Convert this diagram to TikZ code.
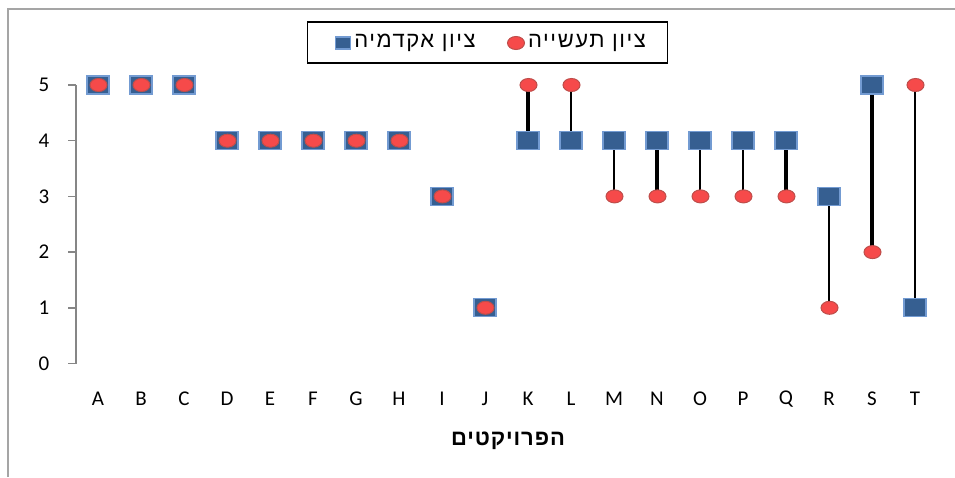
\documentclass[tikz,border=0pt]{standalone}
\usepackage{fontspec}
\setmainfont{Carlito}
\newfontfamily\hebfont[Script=Hebrew,LetterSpace=4]{Liberation Sans}
\newfontfamily\hebkeyfont[Script=Hebrew,LetterSpace=7]{Liberation Sans}
\TeXXeTstate=1
\usetikzlibrary{backgrounds}
\usetikzlibrary{shapes.geometric}
\definecolor{acablue}{RGB}{54,95,145}
\definecolor{acaedge}{RGB}{115,155,210}
\definecolor{indred}{RGB}{246,74,74}
\definecolor{indedge}{RGB}{190,78,75}
\definecolor{axisgray}{RGB}{134,134,134}
\definecolor{framegray}{RGB}{165,165,165}

\begin{document}
\begin{tikzpicture}[
            x = 1pt, y = -1pt, % pixel grid
            font = \fontsize{21}{25}\selectfont,
            aca/.style = {rectangle, draw = acaedge, fill = acablue, line width = 1.2pt,
                minimum width = 22pt, minimum height = 18pt, inner sep = 0pt},
            ind/.style = {ellipse, draw = indedge, fill = indred, line width = 1pt,
                minimum width = 17pt, minimum height = 13pt, inner sep = 0pt},
            hilo/.style = {draw = black, line width = 2pt},
            hilo thick/.style = {draw = black, line width = 3.6pt}
        ]

        \useasboundingbox (0,0) rectangle (955,477);

        % frame of the chart area
        \draw[framegray, line width = 2pt] (8,477) -- (8,9) -- (955,9);

        % y axis
        \draw[axisgray, line width = 1.5pt] (76,85) -- (76,363.5);
        \foreach \v in {0,...,5} {
            \draw[axisgray, line width = 1.5pt] (68,{363.5-55.7*\v}) -- (76,{363.5-55.7*\v});
            \node (ytick-\v) at (44,{363.5-55.7*\v}) {\v};
        }

        % projects
        \foreach \name [count=\i] in {A,B,C,D,E,F,G,H,I,J,K,L,M,N,O,P,Q,R,S,T} {
            \node (xtick-\i) at ({98+43*(\i-1)},399) {\name};
        }

        % data: academic / industry
        \foreach \a/\b [count=\i] in {5/5,5/5,5/5,4/4,4/4,4/4,4/4,4/4,3/3,1/1,
                                      4/5,4/5,4/3,4/3,4/3,4/3,4/3,3/1,5/2,1/5} {
            \node[aca] (aca-\i) at ({98+43*(\i-1)},{363.5-55.7*\a}) {};
        }
        \foreach \a/\b [count=\i] in {5/5,5/5,5/5,4/4,4/4,4/4,4/4,4/4,3/3,1/1,
                                      4/5,4/5,4/3,4/3,4/3,4/3,4/3,3/1,5/2,1/5} {
            \node[ind] (ind-\i) at ({98.5+43*(\i-1)},{363.5-55.7*\b}) {};
        }

        \begin{scope}[on background layer]
            \foreach \i in {11,14,17,19}
                \path[hilo thick] (aca-\i.center) -- (aca-\i.center |- ind-\i.center);
            \foreach \i in {12,13,15,16,18,20}
                \path[hilo] (aca-\i.center) -- (aca-\i.center |- ind-\i.center);
        \end{scope}

        % legend
        \node[draw, line width = 1.3pt, minimum width = 360pt, minimum height = 41pt] (legend) at (487.5,42.5) {};
        \node[aca, minimum width = 15pt, minimum height = 12pt] (key-aca) at (343,43) {};
        \node[anchor = west, inner sep = 3pt] (key-aca-text) at (key-aca.east) {\fontsize{22}{26}\selectfont\hebkeyfont\beginR ציון אקדמיה\endR};
        \node[ind] (key-ind) at (516,43) {};
        \node[anchor = west, inner sep = 3pt] (key-ind-text) at (key-ind.east) {\fontsize{22}{26}\selectfont\hebkeyfont\beginR ציון תעשייה\endR};

        % axis title
        \node[font = \fontsize{22}{26}\selectfont\hebfont\bfseries] (xtitle) at (508,441) {\beginR הפרויקטים\endR};

\end{tikzpicture}
\end{document}
